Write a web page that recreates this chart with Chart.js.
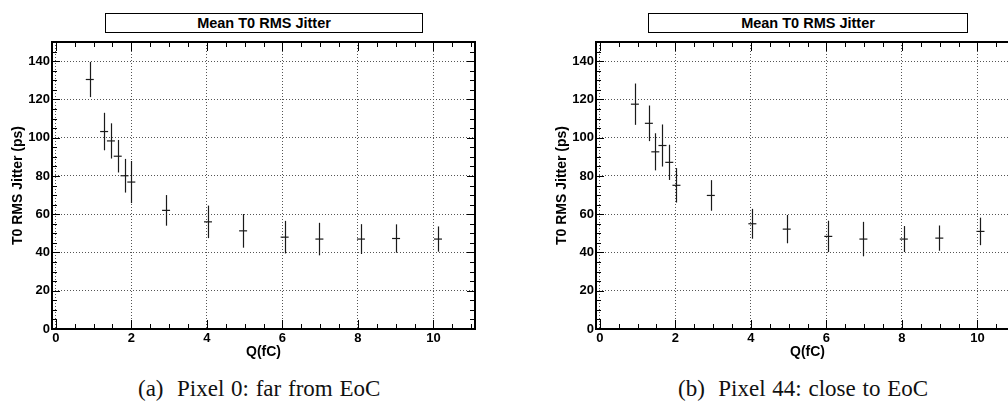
<!DOCTYPE html>
<html>
<head>
<meta charset="utf-8">
<script src="https://cdn.jsdelivr.net/npm/chart.js@4.4.1/dist/chart.umd.min.js"></script>
<style>
  html, body { margin: 0; padding: 0; background: #fff; }
  body { width: 1008px; height: 407px; overflow: hidden; position: relative; }
  .panel { position: absolute; top: 0; width: 500px; height: 361px; }
  .title-box {
    position: absolute; top: 13px; height: 18px; border: 1px solid #000;
    font: bold 14.5px "Liberation Sans", Arial, sans-serif; line-height: 18px;
    text-align: center; color: #000; background: #fff;
  }
  .caption {
    position: absolute; top: 376px; white-space: nowrap; word-spacing: 1px;
    font: 23px "Liberation Serif", "Times New Roman", serif; color: #111;
  }
</style>
</head>
<body>
<div class="panel" style="left:0"><canvas id="chartA"></canvas></div>
<div class="panel" style="left:544px"><canvas id="chartB"></canvas></div>
<div class="title-box" style="left:105px; width:316px">Mean T0 RMS Jitter</div>
<div class="title-box" style="left:648px; width:318px">Mean T0 RMS Jitter</div>
<div class="caption" style="left:138px">(a)&nbsp; Pixel 0: far from EoC</div>
<div class="caption" style="left:678px">(b)&nbsp; Pixel 44: close to EoC</div>
<script>
// Pixel 0 (far from EoC)
const chargeA = [0.90, 1.28, 1.46, 1.64, 1.82, 2.00, 2.92, 4.03, 4.96, 6.06, 6.98, 8.08, 9.01, 10.12];
const jitterA = [130.4, 103.2, 98.3, 90.3, 80.1, 76.8, 62.0, 56.0, 51.3, 48.0, 47.0, 47.0, 47.3, 47.0];
const errorA  = [9.2, 9.8, 9.2, 8.5, 8.8, 11.0, 8.0, 8.5, 8.8, 8.5, 8.5, 7.8, 7.4, 6.6];

// Pixel 44 (close to EoC)
const chargeB = [0.93, 1.30, 1.47, 1.66, 1.84, 2.03, 2.94, 4.04, 4.95, 6.05, 6.98, 8.05, 8.99, 10.08];
const jitterB = [117.5, 107.5, 92.6, 95.9, 87.1, 75.1, 69.8, 55.0, 52.2, 48.4, 47.0, 47.0, 47.5, 51.0];
const errorB  = [10.8, 9.3, 9.7, 11.0, 9.2, 9.0, 8.0, 7.8, 7.4, 8.2, 9.0, 6.8, 6.6, 7.2];

const xTicks = [0, 2, 4, 6, 8, 10];
const yTicks = [0, 20, 40, 60, 80, 100, 120, 140];

const fontFamily = '"Liberation Sans", Arial, sans-serif';

// vertical error bars, drawn through the chart scales
const errorBars = {
    id: 'errorBars',
    afterDatasetsDraw(chart) {
        const ctx = chart.ctx;
        const xs = chart.scales.x, ys = chart.scales.y;
        chart.data.datasets.forEach(ds => {
            ctx.save();
            ctx.strokeStyle = '#1a1a1a';
            ctx.lineWidth = 1.2;
            ds.data.forEach((p, i) => {
                const e = ds.errors[i];
                const x = Math.round(xs.getPixelForValue(p.x)) + 0.5;
                ctx.beginPath();
                ctx.moveTo(x, ys.getPixelForValue(p.y + e));
                ctx.lineTo(x, ys.getPixelForValue(p.y - e));
                ctx.stroke();
            });
            ctx.restore();
        });
    }
};

// ROOT style frame with inward ticks on all four sides
const frame = {
    id: 'frame',
    afterDraw(chart) {
        const ctx = chart.ctx;
        const a = chart.chartArea;
        const xs = chart.scales.x, ys = chart.scales.y;
        ctx.save();
        ctx.strokeStyle = '#000';
        ctx.lineWidth = 1;
        ctx.beginPath();
        for (let v = 0; v <= 11; v += 0.5) {
            const len = (v % 2 === 0) ? 9 : 5;
            const x = Math.round(xs.getPixelForValue(v)) + 0.5;
            ctx.moveTo(x, a.bottom); ctx.lineTo(x, a.bottom - len);
            ctx.moveTo(x, a.top); ctx.lineTo(x, a.top + len);
        }
        for (let v = 0; v <= 150; v += 5) {
            const len = (v % 20 === 0) ? 8 : 5;
            const y = Math.round(ys.getPixelForValue(v)) + 0.5;
            ctx.moveTo(a.left, y); ctx.lineTo(a.left + len, y);
            ctx.moveTo(a.right, y); ctx.lineTo(a.right - len, y);
        }
        ctx.stroke();
        ctx.lineWidth = 2;
        ctx.strokeRect(a.left, a.top, a.right - a.left, a.bottom - a.top);
        ctx.restore();
    }
};

function makeChart(id, charge, jitter, errors) {
    const points = charge.map((c, i) => ({x: c, y: jitter[i]}));
    return new Chart(document.getElementById(id), {
        type: 'scatter',
        data: {
            datasets: [{
                data: points,
                errors: errors,
                pointStyle: 'line',
                pointRadius: 4,
                borderColor: '#1a1a1a',
                borderWidth: 1.2,
                backgroundColor: '#1a1a1a'
            }]
        },
        options: {
            responsive: true,
            maintainAspectRatio: false,
            animation: false,
            layout: {padding: {top: 42, right: 25, left: 0, bottom: 0}},
            plugins: {legend: {display: false}, tooltip: {enabled: false}},
            scales: {
                x: {
                    type: 'linear', min: -0.1, max: 11.1,
                    afterBuildTicks: axis => { axis.ticks = xTicks.map(v => ({value: v})); },
                    afterFit: axis => { axis.height = 32; },
                    grid: {color: '#555', lineWidth: 1, drawTicks: false},
                    border: {display: false, dash: [1, 2]},
                    ticks: {color: '#000', padding: 2, maxRotation: 0,
                            font: {family: fontFamily, size: 13, weight: 'bold'}},
                    title: {display: true, text: 'Q(fC)', color: '#000', padding: {top: 0, bottom: 0},
                            font: {family: fontFamily, size: 14, weight: 'bold'}}
                },
                y: {
                    type: 'linear', min: 0, max: 150,
                    afterBuildTicks: axis => { axis.ticks = yTicks.map(v => ({value: v})); },
                    afterFit: axis => { axis.width = 52; },
                    grid: {color: '#555', lineWidth: 1, drawTicks: false},
                    border: {display: false, dash: [1, 2]},
                    ticks: {color: '#000', padding: 2,
                            font: {family: fontFamily, size: 13, weight: 'bold'}},
                    title: {display: true, text: 'T0 RMS Jitter (ps)', color: '#000', padding: {top: 10, bottom: 0},
                            font: {family: fontFamily, size: 14, weight: 'bold'}}
                }
            }
        },
        plugins: [errorBars, frame]
    });
}

makeChart('chartA', chargeA, jitterA, errorA);
makeChart('chartB', chargeB, jitterB, errorB);
</script>
</body>
</html>
